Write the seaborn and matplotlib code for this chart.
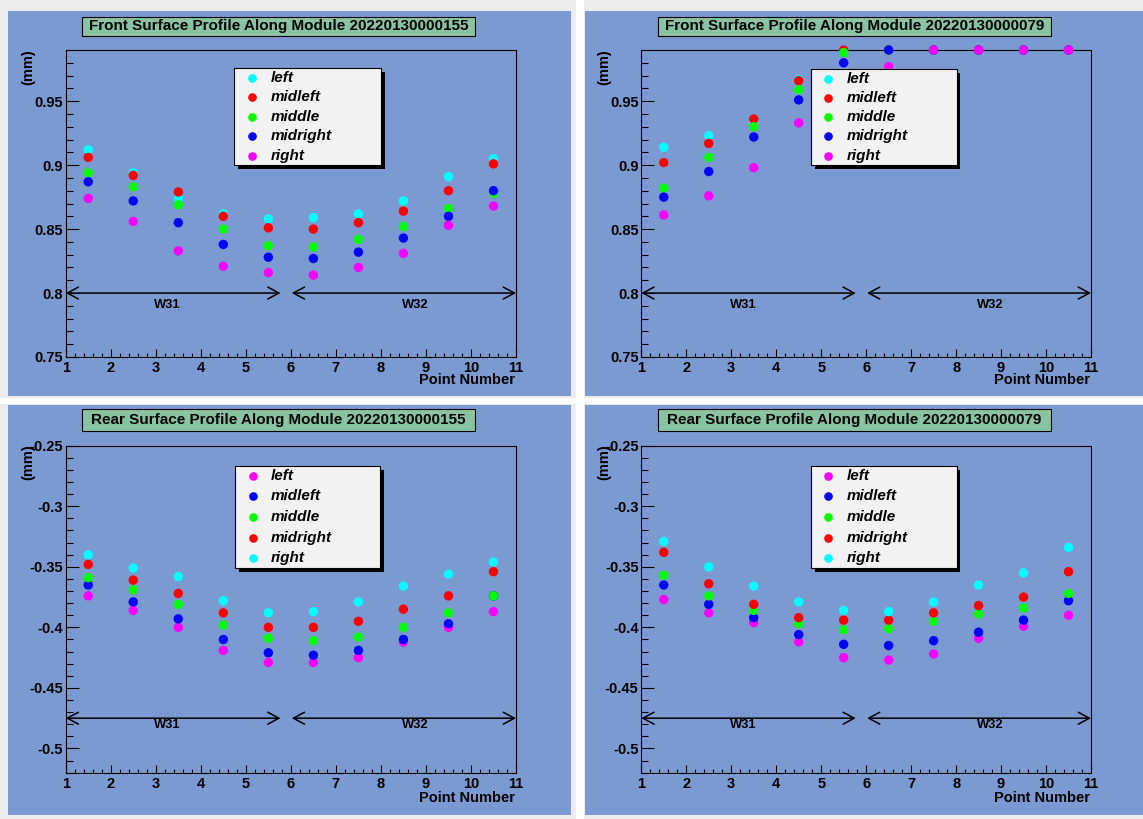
import matplotlib
matplotlib.use("Agg")
import matplotlib.pyplot as plt
import seaborn as sns
import pandas as pd
from matplotlib.patches import Rectangle
from matplotlib.lines import Line2D
from matplotlib.ticker import MultipleLocator, FuncFormatter, FixedLocator

# ---------------- data ----------------
point_number = [1.5, 2.5, 3.5, 4.5, 5.5, 6.5, 7.5, 8.5, 9.5, 10.5]
series_names = ["left", "midleft", "middle", "midright", "right"]

f155_left     = [0.912, 0.894, 0.874, 0.862, 0.858, 0.859, 0.862, 0.872, 0.891, 0.905]
f155_midleft  = [0.906, 0.892, 0.879, 0.860, 0.851, 0.850, 0.855, 0.864, 0.880, 0.901]
f155_middle   = [0.894, 0.883, 0.869, 0.850, 0.837, 0.836, 0.842, 0.852, 0.866, 0.878]
f155_midright = [0.887, 0.872, 0.855, 0.838, 0.828, 0.827, 0.832, 0.843, 0.860, 0.880]
f155_right    = [0.874, 0.856, 0.833, 0.821, 0.816, 0.814, 0.820, 0.831, 0.853, 0.868]

f079_left     = [0.914, 0.923, 0.933, 0.967, 0.990, 0.990, 0.990, 0.990, 0.990, 0.990]
f079_midleft  = [0.902, 0.917, 0.936, 0.966, 0.990, 0.990, 0.990, 0.990, 0.990, 0.990]
f079_middle   = [0.882, 0.906, 0.930, 0.959, 0.988, 0.990, 0.990, 0.990, 0.990, 0.990]
f079_midright = [0.875, 0.895, 0.922, 0.951, 0.980, 0.990, 0.990, 0.990, 0.990, 0.990]
f079_right    = [0.861, 0.876, 0.898, 0.933, 0.955, 0.977, 0.990, 0.990, 0.990, 0.990]

r155_left     = [-0.374, -0.386, -0.400, -0.419, -0.429, -0.429, -0.425, -0.412, -0.400, -0.387]
r155_midleft  = [-0.365, -0.379, -0.393, -0.410, -0.421, -0.423, -0.419, -0.410, -0.397, -0.374]
r155_middle   = [-0.359, -0.369, -0.381, -0.398, -0.409, -0.411, -0.408, -0.400, -0.388, -0.374]
r155_midright = [-0.348, -0.361, -0.372, -0.388, -0.400, -0.400, -0.395, -0.385, -0.374, -0.354]
r155_right    = [-0.340, -0.351, -0.358, -0.378, -0.388, -0.387, -0.379, -0.366, -0.356, -0.346]

r079_left     = [-0.377, -0.388, -0.396, -0.412, -0.425, -0.427, -0.422, -0.409, -0.399, -0.390]
r079_midleft  = [-0.365, -0.381, -0.392, -0.406, -0.414, -0.415, -0.411, -0.404, -0.394, -0.378]
r079_middle   = [-0.357, -0.374, -0.386, -0.397, -0.402, -0.401, -0.395, -0.389, -0.384, -0.372]
r079_midright = [-0.338, -0.364, -0.381, -0.392, -0.394, -0.394, -0.388, -0.382, -0.375, -0.354]
r079_right    = [-0.329, -0.350, -0.366, -0.379, -0.386, -0.387, -0.379, -0.365, -0.355, -0.334]

front_colors = ["#00ffff", "#ff0000", "#00ff00", "#0000ff", "#ff00ff"]
rear_colors = ["#ff00ff", "#0000ff", "#00ff00", "#ff0000", "#00ffff"]

titles = ["Front Surface Profile Along Module 20220130000155",
          "Front Surface Profile Along Module 20220130000079",
          "Rear Surface Profile Along Module 20220130000155",
          "Rear Surface Profile Along Module 20220130000079"]

front_ylim = (0.75, 0.99)
rear_ylim = (-0.52, -0.25)
x_ticks = [1, 2, 3, 4, 5, 6, 7, 8, 9, 10, 11]
w31_span = (1.0, 5.77)
w32_span = (6.02, 11.0)
w31_label_x = 3.26
w32_label_x = 8.77
front_arrow_y, front_label_y = 0.80, 0.791
rear_arrow_y, rear_label_y = -0.475, -0.481

# ---------------- style ----------------
W, H = 1143, 819
PAD_COLOR = "#7b9ad1"
TITLE_COLOR = "#88c3a2"
LEG_COLOR = "#f2f2f2"
FONT = "Liberation Sans"
plt.rcParams["font.family"] = [FONT, "DejaVu Sans"]

fig = plt.figure(figsize=(W / 100, H / 100), dpi=100, facecolor="#ececec")


def frac(x0, y0, x1, y1):
    return [x0 / W, 1 - y1 / H, (x1 - x0) / W, (y1 - y0) / H]


def fig_rect(x0, y0, x1, y1, **kw):
    l, b, w, h = frac(x0, y0, x1, y1)
    r = Rectangle((l, b), w, h, transform=fig.transFigure, **kw)
    fig.add_artist(r)
    return r


# gaps
fig_rect(576, 0, 584, H, facecolor="white", edgecolor="none", zorder=-20)
fig_rect(0, 398, W, 404, facecolor="white", edgecolor="none", zorder=-20)

pads = [(8, 11, 571, 396), (585, 11, 1143, 396), (8, 405, 571, 815), (585, 405, 1143, 815)]
frames = [(65.7, 50, 516, 357), (641.3, 50, 1091, 357), (65.7, 445.7, 516, 772.7), (641.3, 445.7, 1091, 772.7)]
title_boxes = [(82, 16.7, 475, 35.7), (658, 16.7, 1051, 35.7), (82, 409.3, 475, 430.7), (658, 409.3, 1051, 430.7)]
legend_boxes = [(234.3, 68.3, 380.7, 165.3), (810.5, 69, 956.5, 165.3), (234.5, 465.7, 380.4, 568.3), (810.5, 465.7, 956.5, 568.3)]

panel_data = [
    [f155_left, f155_midleft, f155_middle, f155_midright, f155_right],
    [f079_left, f079_midleft, f079_middle, f079_midright, f079_right],
    [r155_left, r155_midleft, r155_middle, r155_midright, r155_right],
    [r079_left, r079_midleft, r079_middle, r079_midright, r079_right],
]

fmt = FuncFormatter(lambda v, p: "%g" % round(v, 4))

for i in range(4):
    front = i < 2
    colors = front_colors if front else rear_colors
    ylim = front_ylim if front else rear_ylim
    fig_rect(*pads[i], facecolor=PAD_COLOR, edgecolor="none", zorder=-10)

    ax = fig.add_axes(frac(*frames[i]))
    ax.set_facecolor("none")

    rows = []
    for name, vals in zip(series_names, panel_data[i]):
        for x, v in zip(point_number, vals):
            rows.append({"point": x, "value": v, "pos": name})
    df = pd.DataFrame(rows)
    sns.scatterplot(data=df, x="point", y="value", hue="pos", hue_order=series_names,
                    palette=dict(zip(series_names, colors)), s=46, linewidth=0,
                    legend=False, ax=ax, clip_on=False, zorder=3)

    ax.set_xlim(1, 11)
    ax.set_ylim(*ylim)
    ax.set_xlabel("")
    ax.set_ylabel("")
    ax.xaxis.set_major_locator(FixedLocator(x_ticks))
    ax.xaxis.set_minor_locator(MultipleLocator(0.2))
    ax.yaxis.set_major_locator(MultipleLocator(0.05))
    ax.yaxis.set_minor_locator(MultipleLocator(0.01))
    ax.yaxis.set_major_formatter(fmt)
    ax.xaxis.set_major_formatter(fmt)
    ax.tick_params(axis="x", which="major", direction="in", length=6, width=0.8, pad=3,
                   labelsize=10.5, top=False)
    ax.tick_params(axis="x", which="minor", direction="in", length=3, width=0.8, top=False)
    ax.tick_params(axis="y", which="major", direction="in", length=9.5, width=0.8, pad=2,
                   labelsize=10.5, right=False)
    ax.tick_params(axis="y", which="minor", direction="in", length=4.8, width=0.8, right=False)
    for lab in ax.get_xticklabels() + ax.get_yticklabels():
        lab.set_fontweight("bold")
    for sp in ax.spines.values():
        sp.set_linewidth(0.8)
        sp.set_color("black")

    ay = front_arrow_y if front else rear_arrow_y
    ly = front_label_y if front else rear_label_y
    for span in (w31_span, w32_span):
        ax.annotate("", xy=(span[0], ay), xytext=(span[1], ay),
                    arrowprops=dict(arrowstyle="<->,head_length=0.8,head_width=0.43",
                                    mutation_scale=10, lw=1.1, color="black",
                                    shrinkA=0, shrinkB=0), annotation_clip=False)
    ax.text(w31_label_x, ly, "W31", ha="center", va="center", fontsize=9.3, fontweight="bold")
    ax.text(w32_label_x, ly, "W32", ha="center", va="center", fontsize=9.3, fontweight="bold")

    # axis titles
    off = -16 if front else -18
    ax.annotate("Point Number", xy=(1, 0), xycoords="axes fraction", xytext=(-1, off),
                textcoords="offset pixels", ha="right", va="top", fontsize=10.5,
                fontweight="bold")
    fx0, fy0, fx1, fy1 = frames[i]
    fig.text((fx0 - 37) / W, 1 - (fy0 - 1) / H, "(mm)", rotation=90, ha="center", va="top",
             fontsize=10.5, fontweight="bold")

    # title box
    tb = title_boxes[i]
    fig_rect(*tb, facecolor=TITLE_COLOR, edgecolor="black", linewidth=0.8, zorder=5)
    fig.text((tb[0] + tb[2]) / 2 / W, 1 - (tb[1] + tb[3]) / 2 / H, titles[i],
             ha="center", va="center", fontsize=11, fontweight="bold", zorder=6)

    # legend
    lb = legend_boxes[i]
    fig_rect(lb[0] + 4, lb[1] + 4, lb[2] + 4, lb[3] + 4, facecolor="black", edgecolor="none", zorder=7)
    fig_rect(*lb, facecolor=LEG_COLOR, edgecolor="black", linewidth=0.8, zorder=8)
    h = lb[3] - lb[1]
    for k, (name, c) in enumerate(zip(series_names, colors)):
        yc = lb[1] + h * (k + 0.5) / 5
        fig.add_artist(Line2D([(lb[0] + 18) / W], [1 - yc / H], marker="o", markersize=6.2,
                              markerfacecolor=c, markeredgewidth=0, linestyle="none",
                              transform=fig.transFigure, zorder=9))
        fig.text((lb[0] + 36) / W, 1 - yc / H, name, ha="left", va="center",
                 fontsize=11, fontweight="bold", fontstyle="italic", zorder=9)

fig.savefig("out.png", dpi=100, facecolor=fig.get_facecolor())
